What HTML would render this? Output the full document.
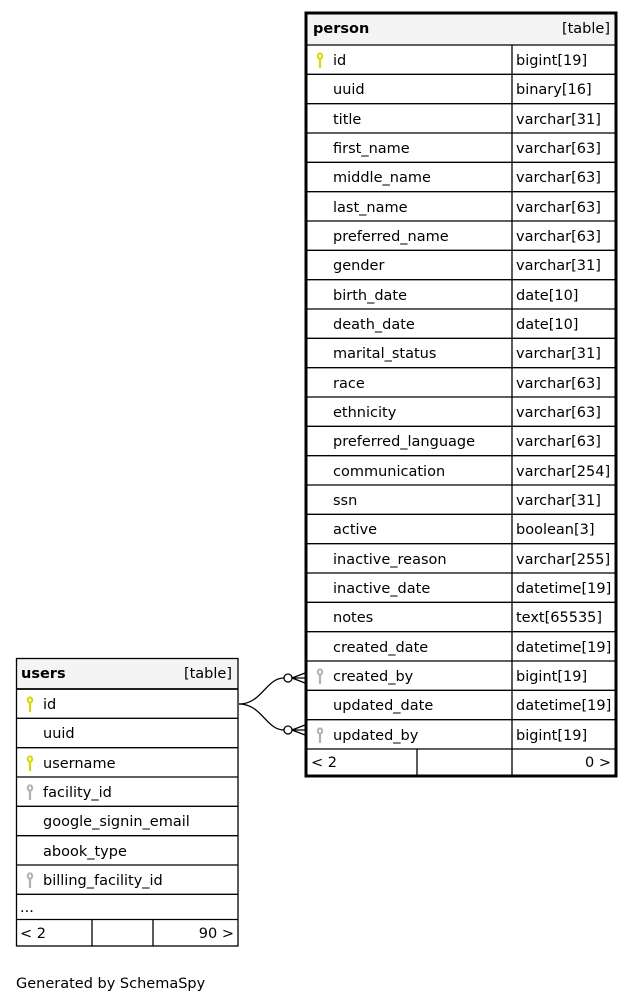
<!DOCTYPE html>
<html><head><meta charset="utf-8"><style>
html,body{margin:0;padding:0;background:#fff;}
svg text{font-family:"DejaVu Sans","Liberation Sans",sans-serif;font-size:14.5px;fill:#000;}
.b{font-weight:bold;}
</style></head><body>
<svg width="635" height="1003" xmlns="http://www.w3.org/2000/svg">
<defs>
<g id="pk"><ellipse cx="0" cy="0" rx="2.2" ry="2.6" fill="none" stroke="#d8d800" stroke-width="2"/><line x1="0" y1="2.5" x2="0" y2="12" stroke="#d8d800" stroke-width="2.2"/></g>
<g id="fk"><ellipse cx="0" cy="0" rx="2.2" ry="2.6" fill="none" stroke="#b0b0b0" stroke-width="2"/><line x1="0" y1="2.5" x2="0" y2="12" stroke="#b0b0b0" stroke-width="2.2"/></g>
</defs>
<!-- person -->
<rect x="306" y="13" width="310" height="32" fill="#f4f4f4"/>
<g stroke="#000" stroke-width="1.3">
<line x1="306" y1="45" x2="616" y2="45"/>
<line x1="306" y1="74.3" x2="616" y2="74.3"/><line x1="306" y1="103.7" x2="616" y2="103.7"/><line x1="306" y1="133" x2="616" y2="133"/><line x1="306" y1="162.3" x2="616" y2="162.3"/><line x1="306" y1="191.7" x2="616" y2="191.7"/><line x1="306" y1="221" x2="616" y2="221"/><line x1="306" y1="250.3" x2="616" y2="250.3"/><line x1="306" y1="279.7" x2="616" y2="279.7"/><line x1="306" y1="309" x2="616" y2="309"/><line x1="306" y1="338.3" x2="616" y2="338.3"/><line x1="306" y1="367.7" x2="616" y2="367.7"/><line x1="306" y1="397" x2="616" y2="397"/><line x1="306" y1="426.3" x2="616" y2="426.3"/><line x1="306" y1="455.7" x2="616" y2="455.7"/><line x1="306" y1="485" x2="616" y2="485"/><line x1="306" y1="514.3" x2="616" y2="514.3"/><line x1="306" y1="543.7" x2="616" y2="543.7"/><line x1="306" y1="573" x2="616" y2="573"/><line x1="306" y1="602.3" x2="616" y2="602.3"/><line x1="306" y1="631.7" x2="616" y2="631.7"/><line x1="306" y1="661" x2="616" y2="661"/><line x1="306" y1="690.3" x2="616" y2="690.3"/><line x1="306" y1="719.7" x2="616" y2="719.7"/><line x1="306" y1="749" x2="616" y2="749"/>
<line x1="512" y1="45" x2="512" y2="776"/><line x1="417" y1="749" x2="417" y2="776"/>
</g>
<rect x="306" y="13" width="310" height="763" fill="none" stroke="#000" stroke-width="3"/>
<text x="313" y="33" class="b">person</text><text x="610" y="33" text-anchor="end">[table]</text>
<use href="#pk" x="320" y="56"/>
<use href="#fk" x="320" y="672"/><use href="#fk" x="320" y="731"/>
<g>
<text x="333" y="65">id</text><text x="516" y="65">bigint[19]</text>
<text x="333" y="94">uuid</text><text x="516" y="94">binary[16]</text>
<text x="333" y="124">title</text><text x="516" y="124">varchar[31]</text>
<text x="333" y="153">first_name</text><text x="516" y="153">varchar[63]</text>
<text x="333" y="182">middle_name</text><text x="516" y="182">varchar[63]</text>
<text x="333" y="212">last_name</text><text x="516" y="212">varchar[63]</text>
<text x="333" y="241">preferred_name</text><text x="516" y="241">varchar[63]</text>
<text x="333" y="270">gender</text><text x="516" y="270">varchar[31]</text>
<text x="333" y="300">birth_date</text><text x="516" y="300">date[10]</text>
<text x="333" y="329">death_date</text><text x="516" y="329">date[10]</text>
<text x="333" y="358">marital_status</text><text x="516" y="358">varchar[31]</text>
<text x="333" y="388">race</text><text x="516" y="388">varchar[63]</text>
<text x="333" y="417">ethnicity</text><text x="516" y="417">varchar[63]</text>
<text x="333" y="446">preferred_language</text><text x="516" y="446">varchar[63]</text>
<text x="333" y="476">communication</text><text x="516" y="476">varchar[254]</text>
<text x="333" y="505">ssn</text><text x="516" y="505">varchar[31]</text>
<text x="333" y="534">active</text><text x="516" y="534">boolean[3]</text>
<text x="333" y="564">inactive_reason</text><text x="516" y="564">varchar[255]</text>
<text x="333" y="593">inactive_date</text><text x="516" y="593">datetime[19]</text>
<text x="333" y="622">notes</text><text x="516" y="622">text[65535]</text>
<text x="333" y="652">created_date</text><text x="516" y="652">datetime[19]</text>
<text x="333" y="681">created_by</text><text x="516" y="681">bigint[19]</text>
<text x="333" y="710">updated_date</text><text x="516" y="710">datetime[19]</text>
<text x="333" y="740">updated_by</text><text x="516" y="740">bigint[19]</text>
<text x="311" y="767">&lt; 2</text><text x="611" y="767" text-anchor="end">0 &gt;</text>
</g>
<!-- users -->
<rect x="16" y="658" width="222" height="31" fill="#f4f4f4"/>
<g stroke="#000" stroke-width="1.3">
<rect x="16.5" y="658.5" width="221.5" height="287.5" fill="none"/>
<line x1="16" y1="689" x2="238" y2="689" stroke-width="1.8"/>
<line x1="16" y1="718.3" x2="238" y2="718.3"/><line x1="16" y1="747.7" x2="238" y2="747.7"/><line x1="16" y1="777" x2="238" y2="777"/><line x1="16" y1="806.3" x2="238" y2="806.3"/><line x1="16" y1="835.7" x2="238" y2="835.7"/><line x1="16" y1="865" x2="238" y2="865"/><line x1="16" y1="894.3" x2="238" y2="894.3"/><line x1="16" y1="919.5" x2="238" y2="919.5"/>
<line x1="92" y1="919.5" x2="92" y2="946"/><line x1="153" y1="919.5" x2="153" y2="946"/>
</g>
<text x="21" y="678" class="b">users</text><text x="232" y="678" text-anchor="end">[table]</text>
<use href="#pk" x="30" y="700"/><use href="#pk" x="30" y="759"/>
<use href="#fk" x="30" y="788"/><use href="#fk" x="30" y="876"/>
<text x="43" y="709">id</text>
<text x="43" y="738">uuid</text>
<text x="43" y="768">username</text>
<text x="43" y="797">facility_id</text>
<text x="43" y="826">google_signin_email</text>
<text x="43" y="856">abook_type</text>
<text x="43" y="885">billing_facility_id</text>
<text x="20" y="912">...</text>
<text x="20" y="938">&lt; 2</text><text x="234" y="938" text-anchor="end">90 &gt;</text>
<!-- connectors -->
<g fill="none" stroke="#000" stroke-width="1.3">
<path d="M239,704 C262,704 266,678 284,678"/>
<path d="M239,704 C262,704 266,730 284,730"/>
<circle cx="288" cy="678" r="4" fill="#fff"/>
<circle cx="288" cy="730" r="4" fill="#fff"/>
<path d="M292,678 L305,673 M292,678 L305,678 M292,678 L305,683"/>
<path d="M292,730 L305,725 M292,730 L305,730 M292,730 L305,735"/>
</g>
<text x="16" y="988">Generated by SchemaSpy</text>
</svg>
</body></html>
